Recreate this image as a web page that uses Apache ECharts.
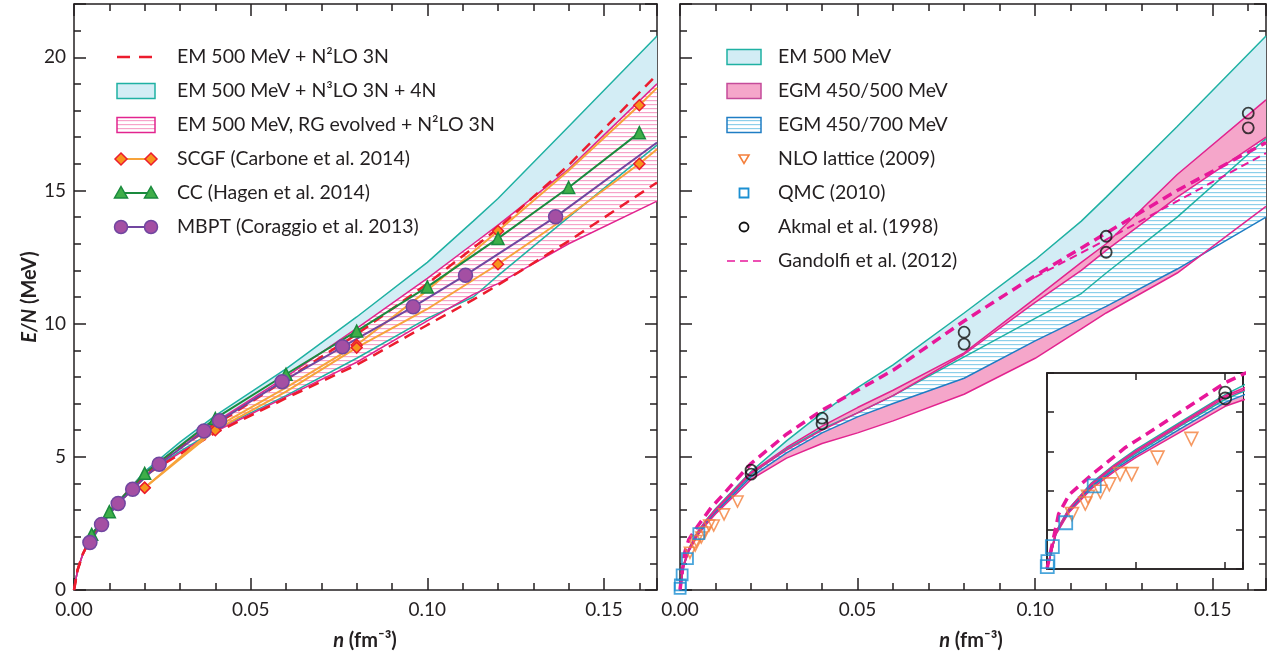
<!DOCTYPE html>
<html><head><meta charset="utf-8">
<script src="https://cdn.jsdelivr.net/npm/echarts/dist/echarts.min.js"></script>
<style>html,body{margin:0;padding:0;background:#fff}#c{width:1276px;height:662px}</style>
</head><body><div id="c"></div>
<script>
// ---------------- DATA ----------------
// Left panel band grid (density n, fm^-3)
const nL = [0, 0.001, 0.0025, 0.005, 0.01, 0.02, 0.03, 0.04, 0.06, 0.08, 0.10, 0.113, 0.12, 0.14, 0.165];
const emN3loUpper = [0, 0.75, 1.35, 2.05, 2.95, 4.45, 5.55, 6.55, 8.3, 10.25, 12.3, 13.85, 14.7, 17.4, 20.8];
const emN3loLower = [0, 0.75, 1.35, 2.0, 2.9, 4.3, 5.2, 6.0, 7.3, 8.7, 10.2, 11.0, 11.8, 14.0, 16.7];
const rgUpper     = [0, 0.75, 1.35, 2.05, 2.95, 4.4, 5.4, 6.3, 8.0, 9.82, 11.7, 13.0, 13.7, 15.8, 19.0];
const rgLower     = [0, 0.75, 1.35, 2.0, 2.9, 4.3, 5.15, 5.95, 7.25, 8.55, 10.1, 11.1, 11.5, 13.0, 14.6];
const emN2loUpper = [0, 0.75, 1.35, 2.05, 2.95, 4.35, 5.35, 6.2, 7.9, 9.6, 11.5, 12.85, 13.57, 15.95, 19.35];
const emN2loLower = [0, 0.75, 1.35, 2.0, 2.9, 4.3, 5.1, 5.9, 7.2, 8.45, 9.95, 10.9, 11.45, 13.1, 15.3];

// SCGF (Carbone et al. 2014), two curves; marked = diamond shown
const scgfN      = [0.02, 0.04, 0.06, 0.08, 0.10, 0.12, 0.14, 0.16, 0.165];
const scgfUpperE = [3.84, 6.1, 7.6, 9.2, 11.25, 13.48, 15.75, 18.2, 18.85];
const scgfLowerE = [3.84, 6.0, 7.45, 9.1, 10.55, 12.23, 14.05, 16.0, 16.55];
const scgfMarked = [1, 1, 0, 1, 0, 1, 0, 1, 0];
// CC (Hagen et al. 2014)
const ccN = [0.005, 0.01, 0.02, 0.04, 0.06, 0.08, 0.10, 0.12, 0.14, 0.16];
const ccE = [2.09, 2.94, 4.38, 6.44, 8.1, 9.72, 11.38, 13.2, 15.11, 17.17];
// MBPT (Coraggio et al. 2013)
const mbptN = [0.0045, 0.0078, 0.0125, 0.0166, 0.0241, 0.0368, 0.0412, 0.0589, 0.076, 0.096, 0.1108, 0.1363, 0.165];
const mbptE = [1.78, 2.46, 3.25, 3.78, 4.72, 5.97, 6.35, 7.82, 9.13, 10.63, 11.82, 14.01, 16.8];
const mbptMarked = [1,1,1,1,1,1,1,1,1,1,1,1,0];

// Right panel band grid
const nR = [0, 0.001, 0.0025, 0.005, 0.0075, 0.01, 0.015, 0.02, 0.03, 0.04, 0.05, 0.06, 0.08, 0.10, 0.113, 0.12, 0.14, 0.165];
const em500Upper  = [0, 0.95, 1.55, 2.2, 2.65, 3.05, 3.75, 4.45, 5.6, 6.65, 7.6, 8.45, 10.4, 12.4, 13.85, 14.75, 17.4, 20.8];
const em500Lower  = [0, 0.9, 1.5, 2.12, 2.57, 2.95, 3.65, 4.33, 5.3, 6.05, 6.65, 7.3, 8.75, 10.2, 11.13, 11.9, 14.0, 16.95];
const egm500Upper = [0, 0.95, 1.55, 2.18, 2.63, 3.02, 3.72, 4.42, 5.35, 6.15, 6.85, 7.5, 8.9, 10.95, 12.3, 13.0, 15.6, 18.4];
const egm500Lower = [0, 0.88, 1.45, 2.05, 2.48, 2.85, 3.5, 4.15, 4.95, 5.5, 5.9, 6.35, 7.35, 8.7, 9.8, 10.4, 11.9, 14.4];
const egm700Upper = [0, 0.92, 1.52, 2.15, 2.6, 2.98, 3.68, 4.38, 5.25, 6.0, 6.65, 7.3, 8.85, 10.8, 12.0, 12.75, 14.75, 17.0];
const egm700Lower = [0, 0.9, 1.48, 2.1, 2.52, 2.9, 3.58, 4.25, 5.15, 5.9, 6.5, 7.0, 7.95, 9.35, 10.2, 10.65, 12.05, 14.0];

// Gandolfi et al. (2012)
const gandN  = [0, 0.0013, 0.0025, 0.005, 0.0088, 0.0126, 0.0156, 0.02, 0.03, 0.04, 0.05, 0.06, 0.08, 0.10, 0.12, 0.14, 0.165];
const gandE  = [0, 1.4, 1.9, 2.4, 3.1, 3.65, 4.1, 4.75, 5.85, 6.75, 7.5, 8.25, 10.1, 11.8, 13.4, 15.0, 16.8];
const gand2N = [0.10, 0.12, 0.14, 0.165];
const gand2E = [11.75, 13.15, 14.6, 16.4];
// NLO lattice (2009)
const nloN = [0.0028, 0.0043, 0.0046, 0.0060, 0.0070, 0.0082, 0.0095, 0.0124, 0.0162];
const nloE = [1.40, 1.67, 1.84, 1.97, 2.16, 2.42, 2.42, 2.84, 3.32];
// QMC (2010)
const qmcN = [0.00003, 0.0001, 0.0006, 0.0021, 0.0053];
const qmcE = [0.06, 0.19, 0.57, 1.18, 2.12];
// Akmal et al. (1998)
const akN = [0.02, 0.02, 0.04, 0.04, 0.08, 0.08, 0.12, 0.12, 0.16, 0.16];
const akE = [4.5, 4.35, 6.45, 6.23, 9.68, 9.23, 13.28, 12.68, 17.9, 17.35];

// Axis ticks
const xMax = 0.165, xInterval = 0.05, yMax = 22, yInterval = 5;
const insetXMax = 0.022, insetXInterval = 0.01, insetYMax = 5, insetYInterval = 1;

const leftLegend = ['EM 500 MeV + N\u00B2LO 3N', 'EM 500 MeV + N\u00B3LO 3N + 4N', 'EM 500 MeV, RG evolved + N\u00B2LO 3N',
  'SCGF (Carbone et al. 2014)', 'CC (Hagen et al. 2014)', 'MBPT (Coraggio et al. 2013)'];
const rightLegend = ['EM 500 MeV', 'EGM 450/500 MeV', 'EGM 450/700 MeV', 'NLO lattice (2009)', 'QMC (2010)',
  'Akmal et al. (1998)', 'Gandolfi et al. (2012)'];

// ---------------- STYLE ----------------
const FONT = 'Lato';
const C = {
  axis: '#231f20', teal: '#1fb1a3', cyanFill: '#d3edf5', red: '#ec1c2e', magenta: '#e2248f',
  pinkHatch: '#f6a3c9', pinkFill: '#f5a6ca', pinkBorder: '#c54b9a', blue: '#1f7dc4', blueHatch: '#8ccfea',
  orange: '#f7a33a', orangeMk: '#f7941d', green: '#1a8a3e', greenFill: '#3fae49', purple: '#7146a0',
  purpleFill: '#a44fa3', nlo: '#f47f3b', qmc: '#1b8fd2', gand: '#e8179a'
};

function hatch(color, bg, gap) {
  const c = document.createElement('canvas'); c.width = 8; c.height = gap;
  const g = c.getContext('2d'); g.fillStyle = bg; g.fillRect(0, 0, 8, gap);
  g.fillStyle = color; g.fillRect(0, 0, 8, 1.2);
  return { image: c, repeat: 'repeat' };
}
const pinkPattern = hatch(C.pinkHatch, '#ffffff', 4);
const bluePattern = hatch(C.blueHatch, '#ffffff', 4);

const zip = (a, b) => a.map((v, i) => [v, b[i]]);

function band(xi, yi, nArr, up, lo, fill, z) {
  return {
    type: 'custom', xAxisIndex: xi, yAxisIndex: yi, z: z, silent: true, animation: false, data: [0],
    renderItem: function (params, api) {
      const pts = [];
      for (let i = 0; i < nArr.length; i++) pts.push(api.coord([nArr[i], up[i]]));
      for (let i = nArr.length - 1; i >= 0; i--) pts.push(api.coord([nArr[i], lo[i]]));
      const cs = params.coordSys;
      return { type: 'group', clipPath: { type: 'rect', shape: { x: cs.x, y: cs.y, width: cs.width, height: cs.height } },
        children: [{ type: 'polygon', shape: { points: pts }, style: { fill: fill, stroke: null } }] };
    }
  };
}
function line(xi, yi, nArr, eArr, color, width, type, z, extra) {
  return Object.assign({
    type: 'line', xAxisIndex: xi, yAxisIndex: yi, data: zip(nArr, eArr), symbol: 'none', silent: true,
    animation: false, z: z, lineStyle: { color: color, width: width, type: type || 'solid' }
  }, extra || {});
}
function markedLine(xi, yi, nArr, eArr, marked, color, width, symbol, size, fill, border, z) {
  return {
    type: 'line', xAxisIndex: xi, yAxisIndex: yi, silent: true, animation: false, z: z,
    data: nArr.map((n, i) => marked[i] ? { value: [n, eArr[i]] } : { value: [n, eArr[i]], symbol: 'none' }),
    symbol: symbol, symbolSize: size, showAllSymbol: true,
    lineStyle: { color: color, width: width },
    itemStyle: { color: fill, borderColor: border, borderWidth: 1.5 }
  };
}
function scatter(xi, yi, nArr, eArr, symbol, size, color, bw, z, rot) {
  return {
    type: 'scatter', xAxisIndex: xi, yAxisIndex: yi, data: zip(nArr, eArr), symbol: symbol, symbolSize: size,
    symbolRotate: rot || 0, silent: true, animation: false, z: z,
    itemStyle: { color: 'rgba(255,255,255,0)', borderColor: color, borderWidth: bw }
  };
}

function axisCommon(show, minor, len, z) {
  return {
    type: 'value', z: z || 0,
    axisLine: { show: true, onZero: false, lineStyle: { color: C.axis, width: 1.5 } },
    axisTick: { show: true, inside: true, length: len, lineStyle: { color: C.axis, width: 1.5 } },
    minorTick: { show: minor, splitNumber: 5, length: Math.round(len * 0.55), lineStyle: { color: C.axis, width: 1.5 } },
    splitLine: { show: false }, minorSplitLine: { show: false },
    axisLabel: { show: show, color: C.axis, fontFamily: FONT, fontSize: 19, showMaxLabel: false, hideOverlap: false }
  };
}
const xAxes = [], yAxes = [];
[0, 1].forEach(g => {
  xAxes.push(Object.assign(axisCommon(true, true, 12), { gridIndex: g, position: 'bottom', min: 0, max: xMax, interval: xInterval }));
  xAxes[xAxes.length - 1].axisLabel.formatter = v => v.toFixed(2);
  xAxes[xAxes.length - 1].axisLabel.margin = 10;
  xAxes.push(Object.assign(axisCommon(false, true, 12), { gridIndex: g, position: 'top', min: 0, max: xMax, interval: xInterval }));
  yAxes.push(Object.assign(axisCommon(g === 0, true, 12), { gridIndex: g, position: 'left', min: 0, max: yMax, interval: yInterval }));
  yAxes[yAxes.length - 1].axisLabel.margin = 8;
  yAxes.push(Object.assign(axisCommon(false, true, 12), { gridIndex: g, position: 'right', min: 0, max: yMax, interval: yInterval }));
});
// inset axes (index 4,5)
xAxes.push(Object.assign(axisCommon(false, false, 7, 9), { gridIndex: 2, position: 'bottom', min: 0, max: insetXMax, interval: insetXInterval }));
xAxes.push(Object.assign(axisCommon(false, false, 7, 9), { gridIndex: 2, position: 'top', min: 0, max: insetXMax, interval: insetXInterval }));
yAxes.push(Object.assign(axisCommon(false, false, 7, 9), { gridIndex: 2, position: 'left', min: 0, max: insetYMax, interval: insetYInterval }));
yAxes.push(Object.assign(axisCommon(false, false, 7, 9), { gridIndex: 2, position: 'right', min: 0, max: insetYMax, interval: insetYInterval }));

// ---------------- SERIES ----------------
const series = [];
// Left panel (x 0, y 0)
series.push(band(0, 0, nL, emN3loUpper, emN3loLower, C.cyanFill, 1));
series.push(band(0, 0, nL, rgUpper, rgLower, pinkPattern, 1));
series.push(line(0, 0, nL, emN3loUpper, C.teal, 1.5, 'solid', 2));
series.push(line(0, 0, nL, emN3loLower, C.teal, 1.5, 'solid', 2));
series.push(line(0, 0, nL, rgUpper, C.magenta, 1.5, 'solid', 2));
series.push(line(0, 0, nL, rgLower, C.magenta, 1.5, 'solid', 2));
series.push(line(0, 0, nL, emN2loUpper, C.red, 2.5, [11, 7], 3));
series.push(line(0, 0, nL, emN2loLower, C.red, 2.5, [11, 7], 3));
series.push(markedLine(0, 0, scgfN, scgfUpperE, scgfMarked, C.orange, 2, 'diamond', 11, C.orangeMk, C.red, 4));
series.push(markedLine(0, 0, scgfN, scgfLowerE, scgfMarked, C.orange, 2, 'diamond', 11, C.orangeMk, C.red, 4));
series.push(markedLine(0, 0, ccN, ccE, ccN.map(() => 1), C.green, 2, 'triangle', 12, C.greenFill, C.green, 4));
series.push(markedLine(0, 0, mbptN, mbptE, mbptMarked, C.purple, 2, 'circle', 14, C.purpleFill, C.purple, 4));

// Right panel (x 2, y 2) and inset (x 4, y 4)
[[2, 2, 1], [4, 4, 10]].forEach(([xi, yi, z]) => {
  series.push(band(xi, yi, nR, em500Upper, em500Lower, C.cyanFill, z));
  series.push(band(xi, yi, nR, egm500Upper, egm500Lower, C.pinkFill, z));
  series.push(band(xi, yi, nR, egm700Upper, egm700Lower, bluePattern, z));
  series.push(line(xi, yi, nR, em500Upper, C.teal, 1.5, 'solid', z + 1));
  series.push(line(xi, yi, nR, em500Lower, C.teal, 1.5, 'solid', z + 1));
  series.push(line(xi, yi, nR, egm700Upper, C.magenta, 1.5, 'solid', z + 1));
  series.push(line(xi, yi, nR, egm700Lower, C.blue, 1.5, 'solid', z + 1));
  series.push(line(xi, yi, nR, egm500Upper, C.magenta, 1.5, 'solid', z + 1));
  series.push(line(xi, yi, nR, egm500Lower, C.magenta, 1.5, 'solid', z + 1));
  series.push(line(xi, yi, gandN, gandE, C.gand, 3.5, [10, 6], z + 2));
  if (xi === 2) series.push(line(xi, yi, gand2N, gand2E, C.gand, 2, [8, 5], z + 2));
  series.push(scatter(xi, yi, nloN, nloE, 'triangle', xi === 4 ? 13 : 11, C.nlo, 1.6, z + 3, 180));
  series.push(scatter(xi, yi, qmcN, qmcE, 'rect', xi === 4 ? 13 : 11, C.qmc, 1.8, z + 3));
  series.push(scatter(xi, yi, akN, akE, 'circle', xi === 4 ? 12 : 11, '#111', 1.8, z + 3));
});

// ---------------- LEGENDS & TITLES (graphic) ----------------
const g = [];
const txt = (x, y, s) => ({ type: 'text', x: x, y: y, z: 20, style: { text: s, fill: C.axis, font: '19.5px ' + FONT, align: 'left', verticalAlign: 'middle' } });
const L0 = 117, L1 = 155, TL = 177;
leftLegend.forEach((s, i) => g.push(txt(TL, 57 + 34 * i, s)));
let y = 57;
g.push({ type: 'line', shape: { x1: L0, y1: y, x2: L1, y2: y }, style: { stroke: C.red, lineWidth: 2.5, lineDash: [13, 9] } });
y = 91;
g.push({ type: 'rect', shape: { x: L0, y: y - 7.5, width: 38, height: 15 }, style: { fill: C.cyanFill, stroke: C.teal, lineWidth: 1.5 } });
y = 125;
g.push({ type: 'rect', shape: { x: L0, y: y - 7.5, width: 38, height: 15 }, style: { fill: pinkPattern, stroke: C.magenta, lineWidth: 1.5 } });
function legLine(y, col) { return { type: 'line', shape: { x1: L0 + 4, y1: y, x2: L1 - 4, y2: y }, style: { stroke: col, lineWidth: 2 } }; }
y = 159; g.push(legLine(y, C.orange));
[L0 + 4, L1 - 4].forEach(cx => g.push({ type: 'polygon', shape: { points: [[cx, y - 6], [cx + 6, y], [cx, y + 6], [cx - 6, y]] }, style: { fill: C.orangeMk, stroke: C.red, lineWidth: 1.5 } }));
y = 193; g.push(legLine(y, C.green));
[L0 + 4, L1 - 4].forEach(cx => g.push({ type: 'polygon', shape: { points: [[cx, y - 6.5], [cx + 6.5, y + 5], [cx - 6.5, y + 5]] }, style: { fill: C.greenFill, stroke: C.green, lineWidth: 1.5 } }));
y = 227; g.push(legLine(y, C.purple));
[L0 + 4, L1 - 4].forEach(cx => g.push({ type: 'circle', shape: { cx: cx, cy: y, r: 6.5 }, style: { fill: C.purpleFill, stroke: C.purple, lineWidth: 1.5 } }));

const R0 = 727, RW = 34, TR = 778, RC = 744;
rightLegend.forEach((s, i) => g.push(txt(TR, 57 + 34 * i, s)));
g.push({ type: 'rect', shape: { x: R0, y: 57 - 7.5, width: RW, height: 15 }, style: { fill: C.cyanFill, stroke: C.teal, lineWidth: 1.5 } });
g.push({ type: 'rect', shape: { x: R0, y: 91 - 7.5, width: RW, height: 15 }, style: { fill: C.pinkFill, stroke: C.pinkBorder, lineWidth: 1.5 } });
g.push({ type: 'rect', shape: { x: R0, y: 125 - 7.5, width: RW, height: 15 }, style: { fill: bluePattern, stroke: C.blue, lineWidth: 1.5 } });
g.push({ type: 'polygon', shape: { points: [[RC - 5, 155], [RC + 5, 155], [RC, 163.5]] }, style: { fill: 'none', stroke: C.nlo, lineWidth: 1.6 } });
g.push({ type: 'rect', shape: { x: RC - 4.5, y: 193 - 4.5, width: 9, height: 9 }, style: { fill: 'none', stroke: C.qmc, lineWidth: 1.8 } });
g.push({ type: 'circle', shape: { cx: RC, cy: 227, r: 4.5 }, style: { fill: 'none', stroke: '#111', lineWidth: 1.8 } });
g.push({ type: 'line', shape: { x1: R0, y1: 261, x2: R0 + RW, y2: 261 }, style: { stroke: C.gand, lineWidth: 1.5, lineDash: [8, 5] } });

// axis titles
const titleRich = { i: { font: 'italic bold 20px ' + FONT, fill: C.axis }, n: { font: 'bold 20px ' + FONT, fill: C.axis } };
g.push({ type: 'text', x: 30, y: 297, rotation: Math.PI / 2, style: { text: '{i|E/N}{n| (MeV)}', rich: titleRich, align: 'center', verticalAlign: 'middle' } });
g.push({ type: 'text', x: 365, y: 641, style: { text: '{i|n}{n| (fm\u207B\u00B3)}', rich: titleRich, align: 'center', verticalAlign: 'middle' } });
g.push({ type: 'text', x: 971, y: 641, style: { text: '{i|n}{n| (fm\u207B\u00B3)}', rich: titleRich, align: 'center', verticalAlign: 'middle' } });

const chart = echarts.init(document.getElementById('c'), null, { renderer: 'canvas' });
chart.setOption({
  animation: false, backgroundColor: '#ffffff',
  grid: [
    { left: 74, top: 4, width: 583, height: 586 },
    { left: 680, top: 4, width: 586, height: 586 },
    { left: 1047, top: 373, width: 196, height: 196, show: true, backgroundColor: '#ffffff', borderColor: C.axis, borderWidth: 1.5, z: 8 }
  ],
  xAxis: xAxes, yAxis: yAxes, series: series, graphic: g
});
</script></body></html>
